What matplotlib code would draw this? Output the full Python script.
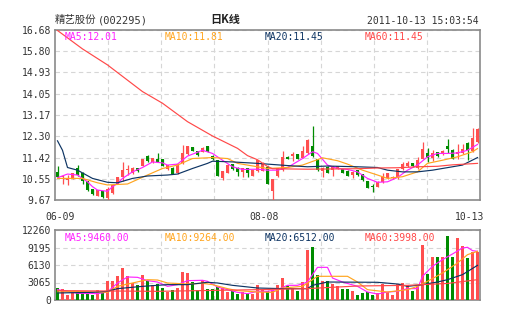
import numpy as np
import matplotlib.pyplot as plt

plt.rcParams['font.family'] = ['DejaVu Sans Mono', 'Noto Sans CJK SC']

# daily bars 2011-06-09 .. 2011-10-13, 85 sessions
opens = [10.81, 10.63, 10.49, 10.56, 10.97, 10.79, 10.45, 10.11, 9.85, 10.05,
         9.74, 9.94, 10.35, 10.60, 10.90, 10.79, 10.97, 11.08, 11.50, 11.23,
         11.37, 11.35, 10.93, 11.01, 10.77, 11.18, 11.56, 11.85, 11.68, 11.66,
         11.89, 11.50, 11.31, 10.58, 10.79, 11.15, 11.01, 10.83, 10.97, 10.66,
         10.86, 10.87, 11.04, 10.05, 10.66, 10.90, 11.45, 11.48, 11.56, 11.42,
         11.59, 11.89, 11.35, 10.87, 11.04, 10.90, 10.96, 10.93, 10.87, 10.71,
         10.90, 10.74, 10.45, 10.25, 10.22, 10.41, 10.56, 10.56, 10.56, 10.93,
         11.07, 11.18, 10.97, 11.38, 11.60, 11.42, 11.63, 11.59, 11.89, 11.75,
         11.56, 11.59, 12.04, 11.68, 12.07]
closes = [10.61, 10.68, 10.59, 10.77, 10.70, 10.46, 10.08, 9.92, 10.08, 9.81,
          10.11, 10.29, 10.60, 10.90, 10.94, 10.97, 10.87, 11.35, 11.27, 11.39,
          11.24, 11.08, 11.11, 10.75, 11.15, 11.59, 11.89, 11.70, 11.52, 11.83,
          11.66, 11.35, 10.67, 10.85, 11.13, 10.93, 10.83, 10.97, 10.77, 10.90,
          11.31, 11.20, 10.33, 10.53, 10.97, 11.45, 11.37, 11.56, 11.38, 11.70,
          12.13, 11.48, 10.90, 11.00, 10.79, 11.07, 11.07, 10.79, 10.66, 10.83,
          10.70, 10.49, 10.18, 10.19, 10.42, 10.63, 10.77, 10.63, 10.93, 11.15,
          11.18, 11.07, 11.31, 11.77, 11.42, 11.60, 11.48, 11.68, 11.77, 11.38,
          11.63, 11.79, 11.72, 12.24, 12.59]
highs = [11.07, 10.72, 10.70, 10.79, 11.11, 10.82, 10.47, 10.12, 10.10, 10.06,
         10.22, 10.31, 10.62, 11.22, 11.11, 11.04, 11.01, 11.37, 11.52, 11.41,
         11.60, 11.37, 11.13, 11.03, 11.17, 11.93, 11.91, 11.87, 11.70, 11.85,
         11.91, 11.52, 11.34, 10.87, 11.15, 11.17, 11.03, 10.99, 10.99, 10.92,
         11.33, 11.22, 11.06, 10.55, 10.99, 11.70, 11.47, 11.66, 11.58, 11.89,
         12.20, 12.71, 11.37, 11.02, 11.06, 11.09, 11.09, 10.95, 10.89, 10.85,
         10.92, 10.76, 10.47, 10.35, 10.44, 10.79, 10.79, 10.65, 10.95, 11.24,
         11.27, 11.20, 11.45, 12.05, 11.83, 11.72, 11.65, 11.75, 12.18, 11.77,
         11.96, 11.96, 12.06, 12.65, 12.63]
lows = [10.56, 10.35, 10.29, 10.55, 10.68, 10.35, 10.06, 9.88, 9.84, 9.74,
        9.67, 9.92, 10.33, 10.46, 10.70, 10.74, 10.84, 11.06, 11.25, 11.21,
        11.22, 11.06, 10.91, 10.73, 10.75, 11.16, 11.54, 11.68, 11.50, 11.64,
        11.64, 11.33, 10.65, 10.49, 10.77, 10.91, 10.68, 10.63, 10.63, 10.64,
        10.84, 10.85, 10.31, 9.67, 10.63, 10.88, 11.35, 11.29, 11.36, 11.40,
        11.57, 11.46, 10.88, 10.63, 10.77, 10.66, 10.94, 10.77, 10.64, 10.56,
        10.68, 10.47, 10.16, 10.01, 10.20, 10.39, 10.54, 10.54, 10.54, 10.91,
        11.05, 11.05, 10.95, 11.36, 11.24, 11.29, 11.46, 11.52, 11.59, 11.36,
        11.38, 11.57, 11.34, 11.66, 12.00]
volumes = [2100, 1930, 930, 1520, 1520, 1400, 1050, 820, 1690, 1170,
           3390, 3390, 4260, 5660, 4150, 3040, 2690, 4440, 3270, 2690,
           2860, 2100, 1400, 1810, 2100, 4960, 4790, 3100, 1690, 3500,
           1930, 1930, 2340, 2100, 1340, 1520, 1050, 1340, 1110, 1050,
           2690, 1990, 1640, 1810, 2690, 3850, 2390, 1930, 1640, 3150,
           8820, 9290, 4440, 3390, 3390, 2800, 2390, 1990, 1990, 1520,
           930, 1170, 1340, 820, 1170, 2800, 1400, 930, 2800, 2980,
           2570, 1640, 2510, 9690, 4610, 7480, 7590, 7590, 11270, 7590,
           10860, 9520, 7300, 8350, 8350]

# moving averages, read at selected sessions
ma5_x = [0, 2, 4, 6, 7, 8, 10, 11, 12, 13, 15, 17, 19, 21, 22, 24, 26, 29, 31, 33,
         35, 37, 40, 42, 44, 46, 49, 51, 52, 54, 56, 58, 60, 62, 64, 66, 68, 70, 72,
         74, 76, 78, 80, 82, 84]
ma5_y = [10.59, 10.74, 10.70, 10.42, 10.22, 10.08, 10.03, 10.22, 10.35, 10.56, 10.83,
         11.01, 11.24, 11.20, 11.11, 11.15, 11.48, 11.72, 11.59, 11.31, 11.04, 10.93,
         10.94, 10.90, 10.90, 11.01, 11.38, 11.66, 11.59, 11.11, 10.97, 10.93, 10.83,
         10.56, 10.40, 10.42, 10.60, 10.90, 11.11, 11.45, 11.59, 11.59, 11.61, 11.72,
         11.96]
ma10_x = [0, 5, 8, 10, 14, 18, 21, 24, 27, 31, 34, 36, 40, 42, 46, 49, 53, 56, 58, 61,
          64, 66, 69, 72, 74, 77, 80, 83, 84]
ma10_y = [10.56, 10.56, 10.38, 10.29, 10.33, 10.70, 10.97, 11.11, 11.38, 11.42, 11.38,
          11.18, 11.04, 10.97, 11.01, 11.11, 11.41, 11.29, 11.15, 10.90, 10.70, 10.56,
          10.63, 10.83, 11.18, 11.31, 11.45, 11.66, 11.79]
ma20_x = [0, 1, 2, 4, 7, 10, 12, 15, 18, 22, 24, 27, 30, 31, 35, 40, 42, 46, 50, 54,
          60, 64, 66, 69, 72, 75, 77, 81, 84]
ma20_y = [12.11, 11.72, 11.01, 10.90, 10.56, 10.40, 10.38, 10.56, 10.66, 10.70, 10.74,
          10.97, 11.18, 11.27, 11.24, 11.18, 11.15, 11.09, 11.04, 11.07, 11.04, 11.01,
          10.90, 10.83, 10.83, 10.90, 10.97, 11.11, 11.42]
ma60_x = [0, 5, 10, 17, 21, 26, 31, 36, 38, 40, 42, 43, 50, 60, 64, 68, 72, 76, 79, 84]
ma60_y = [16.66, 15.90, 15.24, 14.14, 13.66, 12.90, 12.31, 11.80, 11.50, 11.33, 11.05,
          10.96, 10.94, 10.96, 10.99, 11.00, 11.04, 11.06, 11.12, 11.18]

vma5_x = [0, 2, 4, 8, 10, 12, 14, 16, 18, 20, 22, 24, 26, 29, 30, 32, 34, 36, 38, 40,
          42, 44, 46, 48, 50, 51, 52, 54, 55, 57, 60, 62, 64, 66, 68, 70, 72, 73, 75,
          77, 79, 81, 82, 83, 84]
vma5_y = [1810, 1520, 1170, 1110, 1400, 2980, 4030, 3970, 3390, 3150, 2390, 2690, 3390,
          3450, 3270, 2280, 1810, 1340, 1110, 1520, 1520, 1810, 2570, 2570, 3150, 4440,
          5720, 5720, 3850, 3150, 2390, 1400, 1050, 1400, 1520, 1990, 1990, 4150, 5900,
          7070, 8060, 9110, 9230, 8640, 8530]
vma10_x = [0, 4, 10, 12, 15, 18, 20, 22, 26, 29, 31, 34, 36, 40, 43, 45, 49, 52, 54,
           58, 60, 62, 66, 70, 72, 74, 77, 80, 82, 84]
vma10_y = [1400, 1520, 1340, 2390, 2980, 3560, 3500, 2980, 2800, 2920, 2690, 1990, 1640,
           1400, 1340, 2100, 2390, 4150, 4150, 4150, 3150, 1810, 1400, 1810, 2390, 3270,
           4730, 6480, 7940, 8530]
vma20_x = [0, 7, 10, 12, 17, 22, 26, 30, 32, 35, 40, 45, 50, 51, 54, 64, 68, 70, 73,
           76, 78, 81, 84]
vma20_y = [1230, 1340, 1520, 1990, 2390, 2690, 2690, 3100, 2980, 2570, 2100, 1990, 1990,
           2570, 3150, 3100, 2800, 2390, 2690, 3150, 3560, 4440, 6070]
vma60_x = [0, 20, 40, 50, 60, 70, 78, 84]
vma60_y = [1640, 1520, 1810, 2000, 2450, 2570, 2900, 3560]

price_ticks = [9.67, 10.55, 11.42, 12.30, 13.17, 14.05, 14.93, 15.80, 16.68]
vol_ticks = [0, 3065, 6130, 9195, 12260]
price_legend = ['MA5:12.01', 'MA10:11.81', 'MA20:11.45', 'MA60:11.45']
vol_legend = ['MA5:9460.00', 'MA10:9264.00', 'MA20:6512.00', 'MA60:3998.00']
date_labels = ['06-09', '08-08', '10-13']

RED = '#ff4f4f'
GREEN = '#008c00'
MA_COLORS = ['#ff22ff', '#ffa51f', '#0d3463', '#ff4848']
W, H = 505, 330

o = np.array(opens)
c = np.array(closes)
x = np.arange(len(o)) + 0.5
colors = np.where(c >= o, RED, GREEN)

fig = plt.figure(figsize=(W / 100, H / 100), dpi=100)
ax1 = fig.add_axes([55 / W, 1 - 200 / H, 425 / W, 170 / H])
ax2 = fig.add_axes([55 / W, 1 - 300 / H, 425 / W, 70 / H])

# candles
ax1.vlines(x, lows, highs, colors=colors, lw=0.9, zorder=3)
body = np.maximum(np.abs(c - o), 0.025)
ax1.bar(x, body, bottom=np.minimum(o, c), width=0.68, color=colors, zorder=3)
for (mx, my), col in zip([(ma5_x, ma5_y), (ma10_x, ma10_y), (ma20_x, ma20_y),
                          (ma60_x, ma60_y)], MA_COLORS):
    ax1.plot(np.array(mx) + 0.5, my, color=col, lw=0.85, zorder=4)

# volume
ax2.bar(x, volumes, width=0.74, color=colors, zorder=3)
for (mx, my), col in zip([(vma5_x, vma5_y), (vma10_x, vma10_y), (vma20_x, vma20_y),
                          (vma60_x, vma60_y)], MA_COLORS):
    ax2.plot(np.array(mx) + 0.5, my, color=col, lw=0.85, zorder=4)

ax1.set_ylim(price_ticks[0], price_ticks[-1])
ax1.set_yticks(price_ticks)
ax1.set_yticklabels(['%.2f' % t for t in price_ticks])
ax2.set_ylim(0, vol_ticks[-1])
ax2.set_yticks(vol_ticks)
ax2.set_yticklabels([str(t) for t in vol_ticks])

for ax in (ax1, ax2):
    ax.set_xlim(0, len(o))
    ax.set_xticks(np.arange(1, 8) * len(o) / 8)
    ax.set_xticklabels([])
    ax.grid(True, color='#d6d6d6', ls=(0, (4, 3)), lw=0.8, zorder=0)
    ax.set_axisbelow(True)
    ax.tick_params(length=0, labelsize=7, colors='#333333', pad=3)
    for sp in ax.spines.values():
        sp.set_color('#8a8a8a')
        sp.set_linewidth(1.2)

for k, (t1, t2) in enumerate(zip(price_legend, vol_legend)):
    fig.text((65 + 100 * k) / W, 1 - 37 / H, t1, color=MA_COLORS[k], fontsize=7, va='center')
    fig.text((65 + 100 * k) / W, 1 - 238 / H, t2, color=MA_COLORS[k], fontsize=7, va='center')

for lab, px, ha in zip(date_labels, [45, 264, 484], ['left', 'center', 'right']):
    fig.text(px / W, 1 - 217 / H, lab, fontsize=7, color='#333333', ha=ha, va='center')

fig.text(55 / W, 1 - 20 / H, '精艺股份', fontsize=7.5, color='#333333', va='center',
         family=['Noto Sans CJK SC', 'DejaVu Sans'])
fig.text(98 / W, 1 - 20.5 / H, '(002295)', fontsize=7.5, color='#333333', va='center')
fig.text(225 / W, 1 - 20 / H, '日K线', fontsize=8, color='#222222', va='center', ha='center',
         family=['Noto Sans CJK SC', 'DejaVu Sans'], weight='bold')
fig.text(479 / W, 1 - 21 / H, '2011-10-13 15:03:54', fontsize=7, color='#333333',
         va='center', ha='right')

fig.savefig('out.png', dpi=100)
